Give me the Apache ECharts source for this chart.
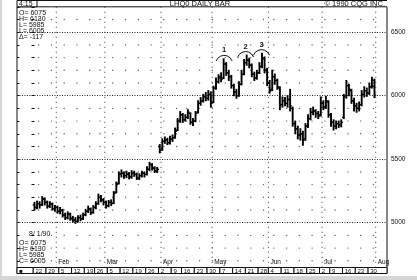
<!DOCTYPE html>
<html><head><meta charset="utf-8">
<script src="https://cdn.jsdelivr.net/npm/echarts@6/dist/echarts.min.js"></script>
<style>html,body{margin:0;padding:0;background:#fff}#c{width:417px;height:280px}</style>
</head><body><div id="c"></div>
<script>
// ---- data ----
const startDate = '1990-01-22', endDate = '1990-08-01';
const holidays = ['1990-02-19','1990-04-13','1990-05-28','1990-07-04'];
const weekLabels = ['22','29','5','12','19','26','5','12','19','26','2','9','16','23','30','7','14','21','28','4','11','18','25','2','9','16','23','30'];
const monthLabels = ['Feb','Mar','Apr','May','Jun','Jul','Aug'];
const yTickLabels = [5000, 5500, 6000, 6500];
const opens  = [5140,5120,5150,5140,5185,5160,5130,5145,5110,5120,5090,5095,5060,5040,5065,5035,5020,5010,5040,5030,5065,5090,5105,5080,5120,5150,5200,5180,5160,5135,5160,5155,5240,5310,5385,5390,5370,5385,5360,5390,5380,5350,5370,5390,5380,5420,5455,5430,5405,5600,5580,5640,5655,5630,5660,5670,5730,5800,5850,5810,5830,5860,5790,5800,5870,5940,5960,5995,5980,6010,5950,6060,6110,6150,6140,6250,6180,6150,6080,6030,6000,6090,6170,6260,6280,6240,6170,6140,6180,6230,6290,6200,6100,6050,6150,6120,6060,5930,5960,5940,5970,5900,5780,5740,5690,5700,5660,5760,5820,5870,5880,5860,5850,5940,5910,5950,5850,5790,5760,5780,5770,5830,6000,6080,6040,5960,5920,5900,5930,6010,6040,6020,6070,6075];
const highs  = [5160,5170,5165,5205,5195,5170,5165,5155,5135,5130,5120,5105,5075,5085,5075,5050,5040,5055,5060,5075,5105,5130,5115,5135,5165,5225,5215,5190,5170,5175,5180,5245,5320,5400,5415,5400,5405,5395,5410,5405,5390,5385,5405,5400,5440,5475,5465,5440,5435,5615,5660,5675,5665,5680,5690,5745,5820,5875,5860,5850,5890,5865,5820,5875,5960,5985,6010,6025,6040,6030,6075,6140,6165,6180,6290,6260,6200,6160,6090,6050,6110,6200,6285,6320,6295,6250,6185,6200,6260,6335,6305,6215,6120,6200,6170,6130,6070,5990,5985,6000,6050,5910,5800,5760,5740,5720,5780,5850,5900,5910,5890,5875,5990,5960,5995,5960,5860,5810,5800,5800,5810,6010,6120,6090,6050,5980,5940,5950,6040,6070,6060,6100,6145,6130];
const lows   = [5100,5110,5115,5135,5140,5115,5120,5100,5090,5075,5070,5045,5025,5030,5020,5005,4995,5005,5015,5025,5055,5080,5065,5075,5110,5145,5165,5140,5115,5125,5135,5150,5235,5305,5360,5350,5355,5345,5350,5365,5340,5340,5360,5360,5375,5410,5415,5395,5395,5550,5570,5625,5615,5620,5640,5665,5725,5790,5790,5800,5820,5775,5765,5795,5865,5925,5950,5960,5965,5910,5945,6050,6100,6110,6135,6160,6120,6060,6000,5980,5995,6085,6165,6240,6220,6150,6120,6130,6175,6220,6180,6080,6020,6040,6090,6050,5890,5910,5920,5910,5880,5760,5700,5660,5650,5610,5650,5750,5810,5850,5830,5820,5840,5890,5900,5830,5760,5730,5740,5750,5755,5820,5980,6000,5940,5880,5870,5880,5920,5990,5995,6010,6060,5985];
const closes = [5120,5150,5140,5190,5160,5130,5150,5110,5120,5090,5100,5060,5040,5070,5030,5020,5010,5040,5030,5060,5090,5110,5080,5120,5150,5200,5180,5160,5130,5160,5150,5230,5300,5380,5390,5370,5380,5360,5390,5380,5350,5370,5390,5380,5420,5460,5430,5410,5420,5570,5640,5650,5630,5660,5670,5720,5800,5850,5810,5830,5870,5790,5800,5860,5940,5960,5990,5980,6010,5940,6060,6110,6140,6130,6250,6180,6150,6080,6030,6000,6090,6170,6260,6280,6240,6170,6140,6180,6230,6300,6200,6100,6040,6150,6120,6070,5930,5960,5940,5970,5920,5780,5740,5690,5700,5650,5760,5820,5870,5880,5860,5840,5940,5910,5960,5850,5790,5760,5780,5770,5790,5990,6080,6050,5960,5920,5900,5930,6010,6040,6020,6070,6122,6005];
const peakMarks = [[74.2, 6290, '1'], [82.6, 6320, '2'], [88.8, 6335, '3']];

// ---- trading dates ----
const dates = [];
(function(){
  let d = new Date(startDate + 'T00:00:00Z'); const e = new Date(endDate + 'T00:00:00Z');
  while (d <= e) {
    const s = d.toISOString().slice(0,10), wd = d.getUTCDay();
    if (wd !== 0 && wd !== 6 && holidays.indexOf(s) < 0) dates.push(s);
    d = new Date(d.getTime() + 86400000);
  }
})();
const N = dates.length;
const weekStarts = [], monthStarts = [];
dates.forEach((s, i) => {
  const wd = new Date(s + 'T00:00:00Z').getUTCDay();
  if (i === 0 || wd < new Date(dates[i-1] + 'T00:00:00Z').getUTCDay()) weekStarts.push(i);
  if (i > 0 && s.slice(5,7) !== dates[i-1].slice(5,7)) monthStarts.push(i);
});
const ohlc = dates.map((s, i) => [i, opens[i], highs[i], lows[i], closes[i]]);

const X_MIN = -6.85, X_MAX = 137.9, Y_MIN = 4600, Y_MAX = 6700;
const weekBoxes = [[X_MIN + 0.5, weekStarts[0], '\u25A0']];
weekStarts.forEach((w, k) => weekBoxes.push([w, k + 1 < weekStarts.length ? weekStarts[k+1] : X_MAX + 0.5, weekLabels[k]]));
const months = monthStarts.map((m, k) => [m, monthLabels[k]]);
const dots = [];
weekStarts.forEach(w => { for (let v = 4700; v <= 6600; v += 100) if (v % 500) dots.push([w + 1.6, v]); });

const FONT = 'Liberation Sans';
const last = N - 1;
const chart = echarts.init(document.getElementById('c'), null, {renderer: 'canvas'});
chart.setOption({
  animation: false,
  backgroundColor: '#fff',
  grid: [
    {left: 17, right: 30, top: 6.8, bottom: 6.5, show: true, borderColor: '#111', borderWidth: 1, backgroundColor: 'transparent'},
    {left: 17, right: 30, top: 267.5, bottom: 6.5, show: false}
  ],
  xAxis: [
    {type: 'value', min: X_MIN, max: X_MAX, show: false, gridIndex: 0},
    {type: 'value', min: X_MIN, max: X_MAX, show: false, gridIndex: 1}
  ],
  yAxis: [
    {type: 'value', gridIndex: 0, position: 'right', min: Y_MIN, max: Y_MAX, interval: 100,
     axisLine: {show: false}, splitLine: {show: false},
     axisTick: {show: true, inside: true, length: 3, lineStyle: {color: '#111'}},
     axisLabel: {margin: 4, fontSize: 6.5, fontFamily: FONT, color: '#111',
       formatter: v => yTickLabels.indexOf(v) >= 0 ? String(v) : ''}},
    {type: 'value', gridIndex: 0, position: 'left', min: Y_MIN, max: Y_MAX, interval: 100,
     axisLine: {show: false}, splitLine: {show: false}, axisLabel: {show: false},
     axisTick: {show: true, inside: true, length: 2.5, lineStyle: {color: '#111'}}},
    {type: 'value', gridIndex: 1, min: 0, max: 1, show: false}
  ],
  series: [
    {type: 'scatter', xAxisIndex: 0, yAxisIndex: 0, data: dots, symbolSize: 1.4, itemStyle: {color: '#333'}, silent: true,
     markLine: {silent: true, symbol: 'none', label: {show: false},
       lineStyle: {color: '#222', type: [1, 1.5], width: 1},
       data: yTickLabels.map(v => ({yAxis: v}))}},
    {type: 'custom', xAxisIndex: 0, yAxisIndex: 0, data: months, silent: true,
     renderItem(params, api) {
       const top = api.coord([api.value(0) + 0.5, Y_MAX]), bot = api.coord([api.value(0) + 0.5, Y_MIN]);
       return {type: 'group', children: [
         {type: 'line', shape: {x1: top[0], y1: top[1], x2: bot[0], y2: bot[1] - 6}, style: {stroke: '#333', lineWidth: 1, lineDash: [1, 4]}},
         {type: 'text', x: bot[0] + 2, y: bot[1] - 11.5, style: {text: months[params.dataIndex][1], fontSize: 6.5, fontFamily: FONT, fill: '#111', verticalAlign: 'middle'}}
       ]};
     }},
    {type: 'custom', xAxisIndex: 0, yAxisIndex: 0, data: ohlc, silent: true,
     encode: {x: 0, y: [1, 2, 3, 4]},
     renderItem(params, api) {
       const x = api.value(0);
       const o = api.coord([x, api.value(1)]), h = api.coord([x, api.value(2)]), l = api.coord([x, api.value(3)]), c = api.coord([x, api.value(4)]);
       return {type: 'group', children: [
         {type: 'line', shape: {x1: h[0], y1: h[1] - 0.5, x2: l[0], y2: l[1] + 0.5}, style: {stroke: '#000', lineWidth: 1.9}},
         {type: 'line', shape: {x1: o[0] - 1.8, y1: o[1], x2: o[0], y2: o[1]}, style: {stroke: '#000', lineWidth: 1.3}},
         {type: 'line', shape: {x1: c[0], y1: c[1], x2: c[0] + 1.8, y2: c[1]}, style: {stroke: '#000', lineWidth: 1.3}}
       ]};
     }},
    {type: 'custom', xAxisIndex: 0, yAxisIndex: 0, data: peakMarks, silent: true,
     renderItem(params, api) {
       const p = api.coord([api.value(0), api.value(1)]);
       const cx = p[0], cy = p[1] + 5, r = 8.5;
       return {type: 'group', children: [
         {type: 'arc', shape: {cx: cx, cy: cy, r: r, startAngle: Math.PI + 0.35, endAngle: 2 * Math.PI - 0.35}, style: {stroke: '#111', fill: null, lineWidth: 1}},
         {type: 'text', x: cx, y: cy - r - 5, style: {text: peakMarks[params.dataIndex][2], fontSize: 7.5, fontFamily: FONT, fontWeight: 'bold', fill: '#111', align: 'center', verticalAlign: 'middle'}}
       ]};
     }},
    {type: 'custom', xAxisIndex: 1, yAxisIndex: 2, data: weekBoxes, silent: true,
     renderItem(params, api) {
       const a = api.coord([api.value(0) - 0.5, 1]), b = api.coord([api.value(1) - 0.5, 0]);
       return {type: 'group', children: [
         {type: 'rect', shape: {x: a[0], y: a[1], width: b[0] - a[0], height: b[1] - a[1]}, style: {stroke: '#111', fill: '#fff', lineWidth: 1}},
         {type: 'text', x: a[0] + 2.2, y: (a[1] + b[1]) / 2 + 0.5, style: {text: weekBoxes[params.dataIndex][2], fontSize: 6, fontFamily: FONT, fill: '#111', verticalAlign: 'middle'}}
       ]};
     }}
  ],
  graphic: [
    {type: 'rect', shape: {x: 0, y: 276, width: 417, height: 4}, style: {fill: '#d6d6d6'}},
    {type: 'rect', shape: {x: 0, y: 0, width: 2, height: 280}, style: {fill: '#d6d6d6'}},
    {type: 'line', shape: {x1: 17, y1: 0.5, x2: 387, y2: 0.5}, style: {stroke: '#111', lineWidth: 1}},
    {type: 'rect', shape: {x: 17, y: 0.5, width: 20, height: 6.3}, style: {stroke: '#111', fill: '#fff', lineWidth: 1}},
    {type: 'text', x: 19, y: 4, style: {text: '4:15', fontSize: 7, fontFamily: FONT, fill: '#111', verticalAlign: 'middle'}},
    {type: 'text', x: 200, y: 4, style: {text: 'LHQ0 DAILY BAR', fontSize: 7.5, fontFamily: FONT, fill: '#111', align: 'center', verticalAlign: 'middle'}},
    {type: 'text', x: 385, y: 4, style: {text: '\u00A9 1990 CQG INC.', fontSize: 7.5, fontFamily: FONT, fill: '#111', align: 'right', verticalAlign: 'middle'}},
    {type: 'text', x: 19, y: 10, style: {text: ['O= ' + opens[last], 'H= ' + highs[last], 'L= ' + lows[last], 'L= ' + closes[last], '\u0394= ' + (closes[last] - closes[last-1])].join('\n'), fontSize: 7, lineHeight: 6, fontFamily: FONT, fill: '#111'}},
    {type: 'text', x: 29, y: 231, style: {text: '8/ 1/90', fontSize: 7, fontFamily: FONT, fill: '#111'}},
    {type: 'text', x: 19, y: 240, style: {text: ['O= ' + opens[last], 'H= ' + highs[last], 'L= ' + lows[last], 'C= ' + closes[last]].join('\n'), fontSize: 7, lineHeight: 6, fontFamily: FONT, fill: '#111'}}
  ]
});
</script></body></html>
